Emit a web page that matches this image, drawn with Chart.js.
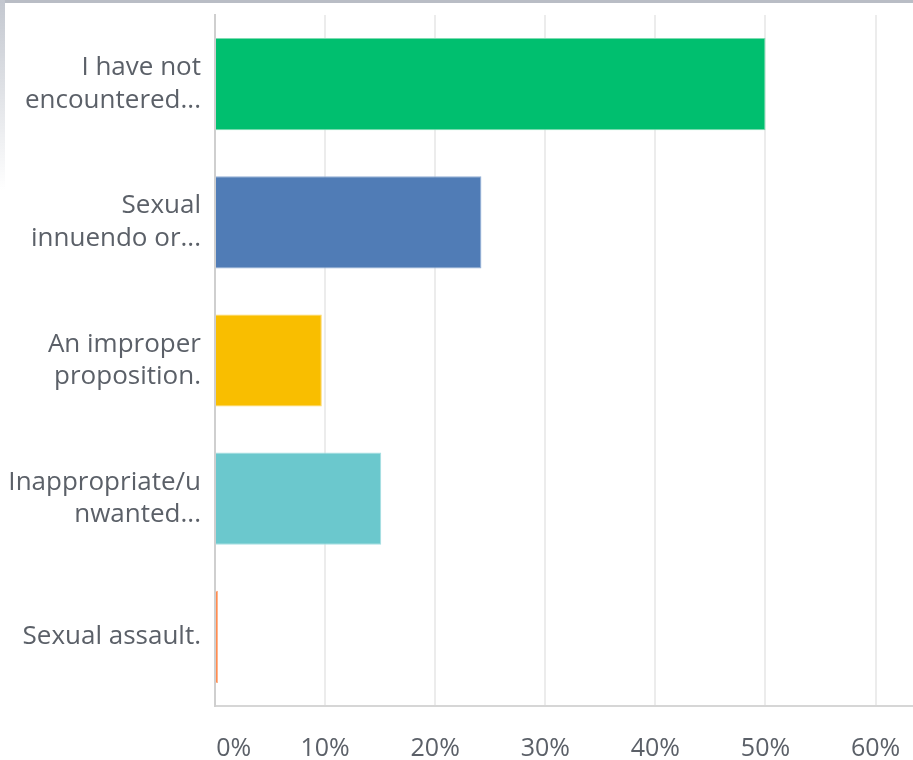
<!DOCTYPE html>
<html>
<head>
<meta charset="utf-8">
<script src="https://cdn.jsdelivr.net/npm/chart.js@4"></script>
<style>
  html, body { margin: 0; padding: 0; background: #ffffff; }
  #wrap { position: relative; width: 913px; height: 760px; overflow: hidden; }
  #topBand { position: absolute; left: 0; top: 0; width: 913px; height: 3px; background: #b9bdc5; }
  #leftBand { position: absolute; left: 0; top: 0; width: 5px; height: 190px;
    background: linear-gradient(to bottom, #c3c7cf, rgba(255,255,255,0)); }
  canvas { position: absolute; left: 0; top: 0; }
</style>
</head>
<body>
<div id="wrap">
  <canvas id="answers" width="913" height="760"></canvas>
  <div id="topBand"></div>
  <div id="leftBand"></div>
</div>
<script>
// Answer choices (wrapped the way the survey tool truncates them)
const answerLabels = [
  ["I have not", "encountered..."],
  ["Sexual", "innuendo or..."],
  ["An improper", "proposition."],
  ["Inappropriate/u", "nwanted..."],
  "Sexual assault."
];

// Share of respondents, in percent
const answerPercents = [50, 24.2, 9.7, 15.1, 0];

const barColors = ["#00bf6f", "#507cb6", "#f9be00", "#6bc8cd", "#ff8b4f"];
const barEdges = ["#7ddcb1", "#93b0d6", "#fcd766", "#a6dfe2", "#ffb48c"];

const percentTicks = [0, 10, 20, 30, 40, 50, 60];

const textColor = "#5b6068";
const fontFamily = "'Open Sans', 'Noto Sans', sans-serif";

// keep the plot flush with the canvas edges: no extra room for overhanging labels
function dropLabelPadding(scale) {
  scale.paddingTop = 0;
  scale.paddingBottom = 0;
  scale.paddingLeft = 0;
  scale.paddingRight = 0;
}

const ctx = document.getElementById("answers").getContext("2d");
new Chart(ctx, {
  type: "bar",
  data: {
    labels: answerLabels,
    datasets: [
      {
        data: answerPercents,
        backgroundColor: barColors,
        borderColor: barEdges,
        borderWidth: 1,
        minBarLength: 3,
        barPercentage: 0.667,
        categoryPercentage: 1,
      },
    ],
  },
  options: {
    indexAxis: "y",
    responsive: false,
    animation: false,
    layout: { padding: { top: 15 } },
    plugins: {
      legend: { display: false },
      tooltip: { enabled: false },
    },
    scales: {
      x: {
        min: 0,
        max: 63.4,
        ticks: {
          padding: 28,
          color: textColor,
          font: { family: fontFamily, size: 25 },
          maxRotation: 0,
          autoSkip: false,
          // first label sits inside the plot instead of centred on the axis
          callback: (v) => (v === 0 ? "\u2003\u20020%" : v + "%"),
        },
        afterBuildTicks: (scale) => {
          scale.ticks = percentTicks.map((v) => ({ value: v }));
        },
        afterFit: (scale) => {
          scale.height = 54;
          dropLabelPadding(scale);
        },
        grid: {
          color: "#ececec",
          lineWidth: 2,
          drawTicks: false,
        },
        border: { color: "#d6d6d6", width: 2 },
      },
      y: {
        ticks: {
          padding: 14,
          color: textColor,
          font: { family: fontFamily, size: 26, lineHeight: 1.25 },
        },
        afterFit: (scale) => {
          scale.width = 215;
          dropLabelPadding(scale);
        },
        grid: { display: false, drawTicks: false },
        border: { color: "#cfcfcf", width: 2 },
      },
    },
  },
});
</script>
</body>
</html>
